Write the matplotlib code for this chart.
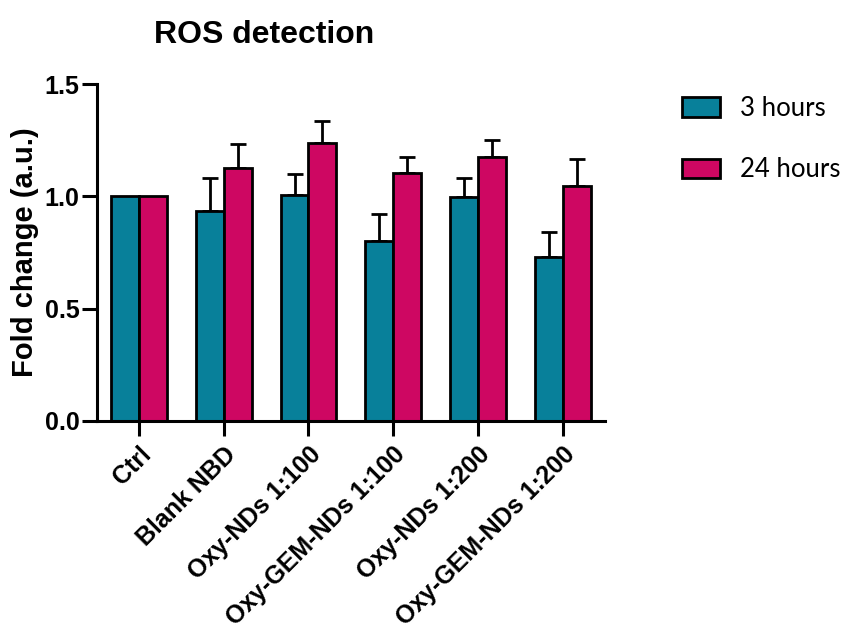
import matplotlib
matplotlib.use("Agg")
import matplotlib.pyplot as plt
import numpy as np

categories = ["Ctrl", "Blank NBD", "Oxy-NDs 1:100", "Oxy-GEM-NDs 1:100", "Oxy-NDs 1:200", "Oxy-GEM-NDs 1:200"]
series_names = ["3 hours", "24 hours"]
values_3h = [1.00, 0.935, 1.006, 0.801, 0.998, 0.731]
errors_3h = [0.0, 0.148, 0.093, 0.120, 0.085, 0.112]
values_24h = [1.00, 1.124, 1.239, 1.105, 1.176, 1.046]
errors_24h = [0.0, 0.111, 0.098, 0.071, 0.074, 0.121]
yticks = [0.0, 0.5, 1.0, 1.5]

teal = "#08809A"
pink = "#CE0762"

plt.rcParams['font.family'] = ['Liberation Sans', 'DejaVu Sans']

fig = plt.figure(figsize=(8.46, 6.35), dpi=100)
ax = fig.add_axes([96.7/846, 1-421/635, (605-96.7)/846, (421-84)/635])

x = np.arange(len(categories))
w = 0.33
lw = 2.0
b1 = ax.bar(x - w/2, values_3h, w, color=teal, edgecolor='black', linewidth=lw, label=series_names[0], zorder=2)
b2 = ax.bar(x + w/2, values_24h, w, color=pink, edgecolor='black', linewidth=lw, label=series_names[1], zorder=2)

for xs, v, e in [(x - w/2, values_3h, errors_3h), (x + w/2, values_24h, errors_24h)]:
    for xi, vi, ei in zip(xs, v, e):
        if ei > 0:
            ax.errorbar(xi, vi, yerr=[[0], [ei]], fmt='none', ecolor='black',
                        elinewidth=lw, capsize=5.8, capthick=lw, zorder=1)

ax.set_xlim(-0.5, 5.5)
ax.set_ylim(0, 1.5)
ax.set_yticks(yticks)
ax.set_yticklabels([f"{t:.1f}" for t in yticks])
ax.set_xticks(x)
ax.set_xticklabels(categories, rotation=45, ha='right', va='top', rotation_mode='anchor')

for s in ['top', 'right']:
    ax.spines[s].set_visible(False)
for s in ['left', 'bottom']:
    ax.spines[s].set_linewidth(2.2)
ax.tick_params(axis='both', width=2.2, length=10.5, labelsize=18, pad=2)
for lab in ax.get_xticklabels() + ax.get_yticklabels():
    lab.set_fontweight('bold')
ax.tick_params(axis='x', pad=5)

ax.set_ylabel("Fold change (a.u.)", fontsize=21, fontweight='bold', labelpad=4)
fig.text(264/846, 1-35/635, "ROS detection", fontsize=23, fontweight='bold', ha='center', va='center')

leg = fig.legend(handles=[b1, b2], labels=series_names, loc='upper left',
                 bbox_to_anchor=(682/846, 1-96/635), frameon=False,
                 prop={'family': ['Lato', 'DejaVu Sans'], 'size': 18.5},
                 handlelength=1.48, handleheight=0.78, handletextpad=0.78,
                 labelspacing=1.42, borderpad=0, borderaxespad=0)

fig.savefig("out.png", dpi=100)
